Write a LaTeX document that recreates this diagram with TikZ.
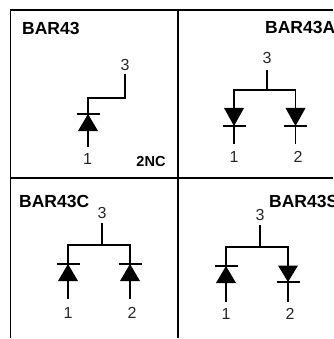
\documentclass[tikz,border=0pt]{standalone}
\usepackage{fontspec}
\setmainfont{Liberation Sans}
\tikzset{
  wire/.style={line width=1.6pt,line cap=butt,line join=miter},
  frameline/.style={line width=1.7pt},
  pin/.style={inner sep=0pt,font=\fontsize{16}{16}\selectfont,text=black!85},
  title/.style={inner sep=0pt,anchor=west,font=\fontsize{17.5}{17.5}\selectfont\bfseries},
}
\newcommand{\dtri}[3]{\fill (#1-10,#3) -- (#1+10,#3) -- (#1,#2) -- cycle;
  \draw[wire] (#1-11.5,#2) -- (#1+11.5,#2);}
\begin{document}
\begin{tikzpicture}[x=1pt,y=-1pt]
\useasboundingbox (0,0) rectangle (333,339);
\clip (0,0) rectangle (333,339);
% frame
\coordinate (tl) at (10.5,10);
\coordinate (tr) at (333,10);
\coordinate (bl) at (10.5,338);
\coordinate (tm) at (178,10);
\coordinate (bm) at (178,338);
\coordinate (ml) at (10.5,178);
\coordinate (mr) at (333,178);
\draw[frameline] (bl) -- (tl) -- (tr);
\draw[frameline] (tm) -- (bm);
\draw[frameline] (ml) -- (mr);
% BAR43
\node[title] (ta) at (22,28) {BAR43};
\node[pin] (a3) at (125,65) {3};
\node[pin] (a1) at (87.5,159) {1};
\node[inner sep=0pt,font=\fontsize{14.5}{14.5}\selectfont\bfseries] (code) at (151,162) {2NC};
\coordinate (a3e) at (125,74);
\coordinate (a1e) at (88,147);
\draw[wire] (a3e) -- (125,98) -- (88,98) -- (a1e);
\dtri{88}{114}{131}
% BAR43A
\node[title] (tb) at (265,27) {BAR43A};
\node[pin] (b3) at (267,58) {3};
\node[pin] (b1) at (234,157) {1};
\node[pin] (b2) at (298,157) {2};
\coordinate (b3e) at (267,70);
\coordinate (bj) at (267,90);
\coordinate (b1e) at (234,144);
\coordinate (b2e) at (295.5,144);
\draw[wire] (b3e) -- (bj);
\draw[wire] (b1e) -- (234,90) -- (295.5,90) -- (b2e);
\dtri{234}{126}{108}
\dtri{295.5}{126}{108}
% BAR43C
\node[title] (tc) at (19,201) {BAR43C};
\node[pin] (c3) at (102,213) {3};
\node[pin] (c1) at (68,313) {1};
\node[pin] (c2) at (132,313) {2};
\coordinate (c3e) at (102,223);
\coordinate (cj) at (102,245);
\coordinate (c1e) at (68,299);
\coordinate (c2e) at (130,299);
\draw[wire] (c3e) -- (cj);
\draw[wire] (c1e) -- (68,245) -- (130,245) -- (c2e);
\dtri{68}{264}{281}
\dtri{130}{264}{281}
% BAR43S
\node[title] (td) at (269,201) {BAR43S};
\node[pin] (d3) at (260,215) {3};
\node[pin] (d1) at (226,314) {1};
\node[pin] (d2) at (290,314) {2};
\coordinate (d3e) at (260,225);
\coordinate (dj) at (260,247);
\coordinate (d1e) at (226,302);
\coordinate (d2e) at (288,302);
\draw[wire] (d3e) -- (dj);
\draw[wire] (d1e) -- (226,247) -- (288,247) -- (d2e);
\dtri{226}{266}{283}
\dtri{288}{282}{265.5}
\end{tikzpicture}
\end{document}
